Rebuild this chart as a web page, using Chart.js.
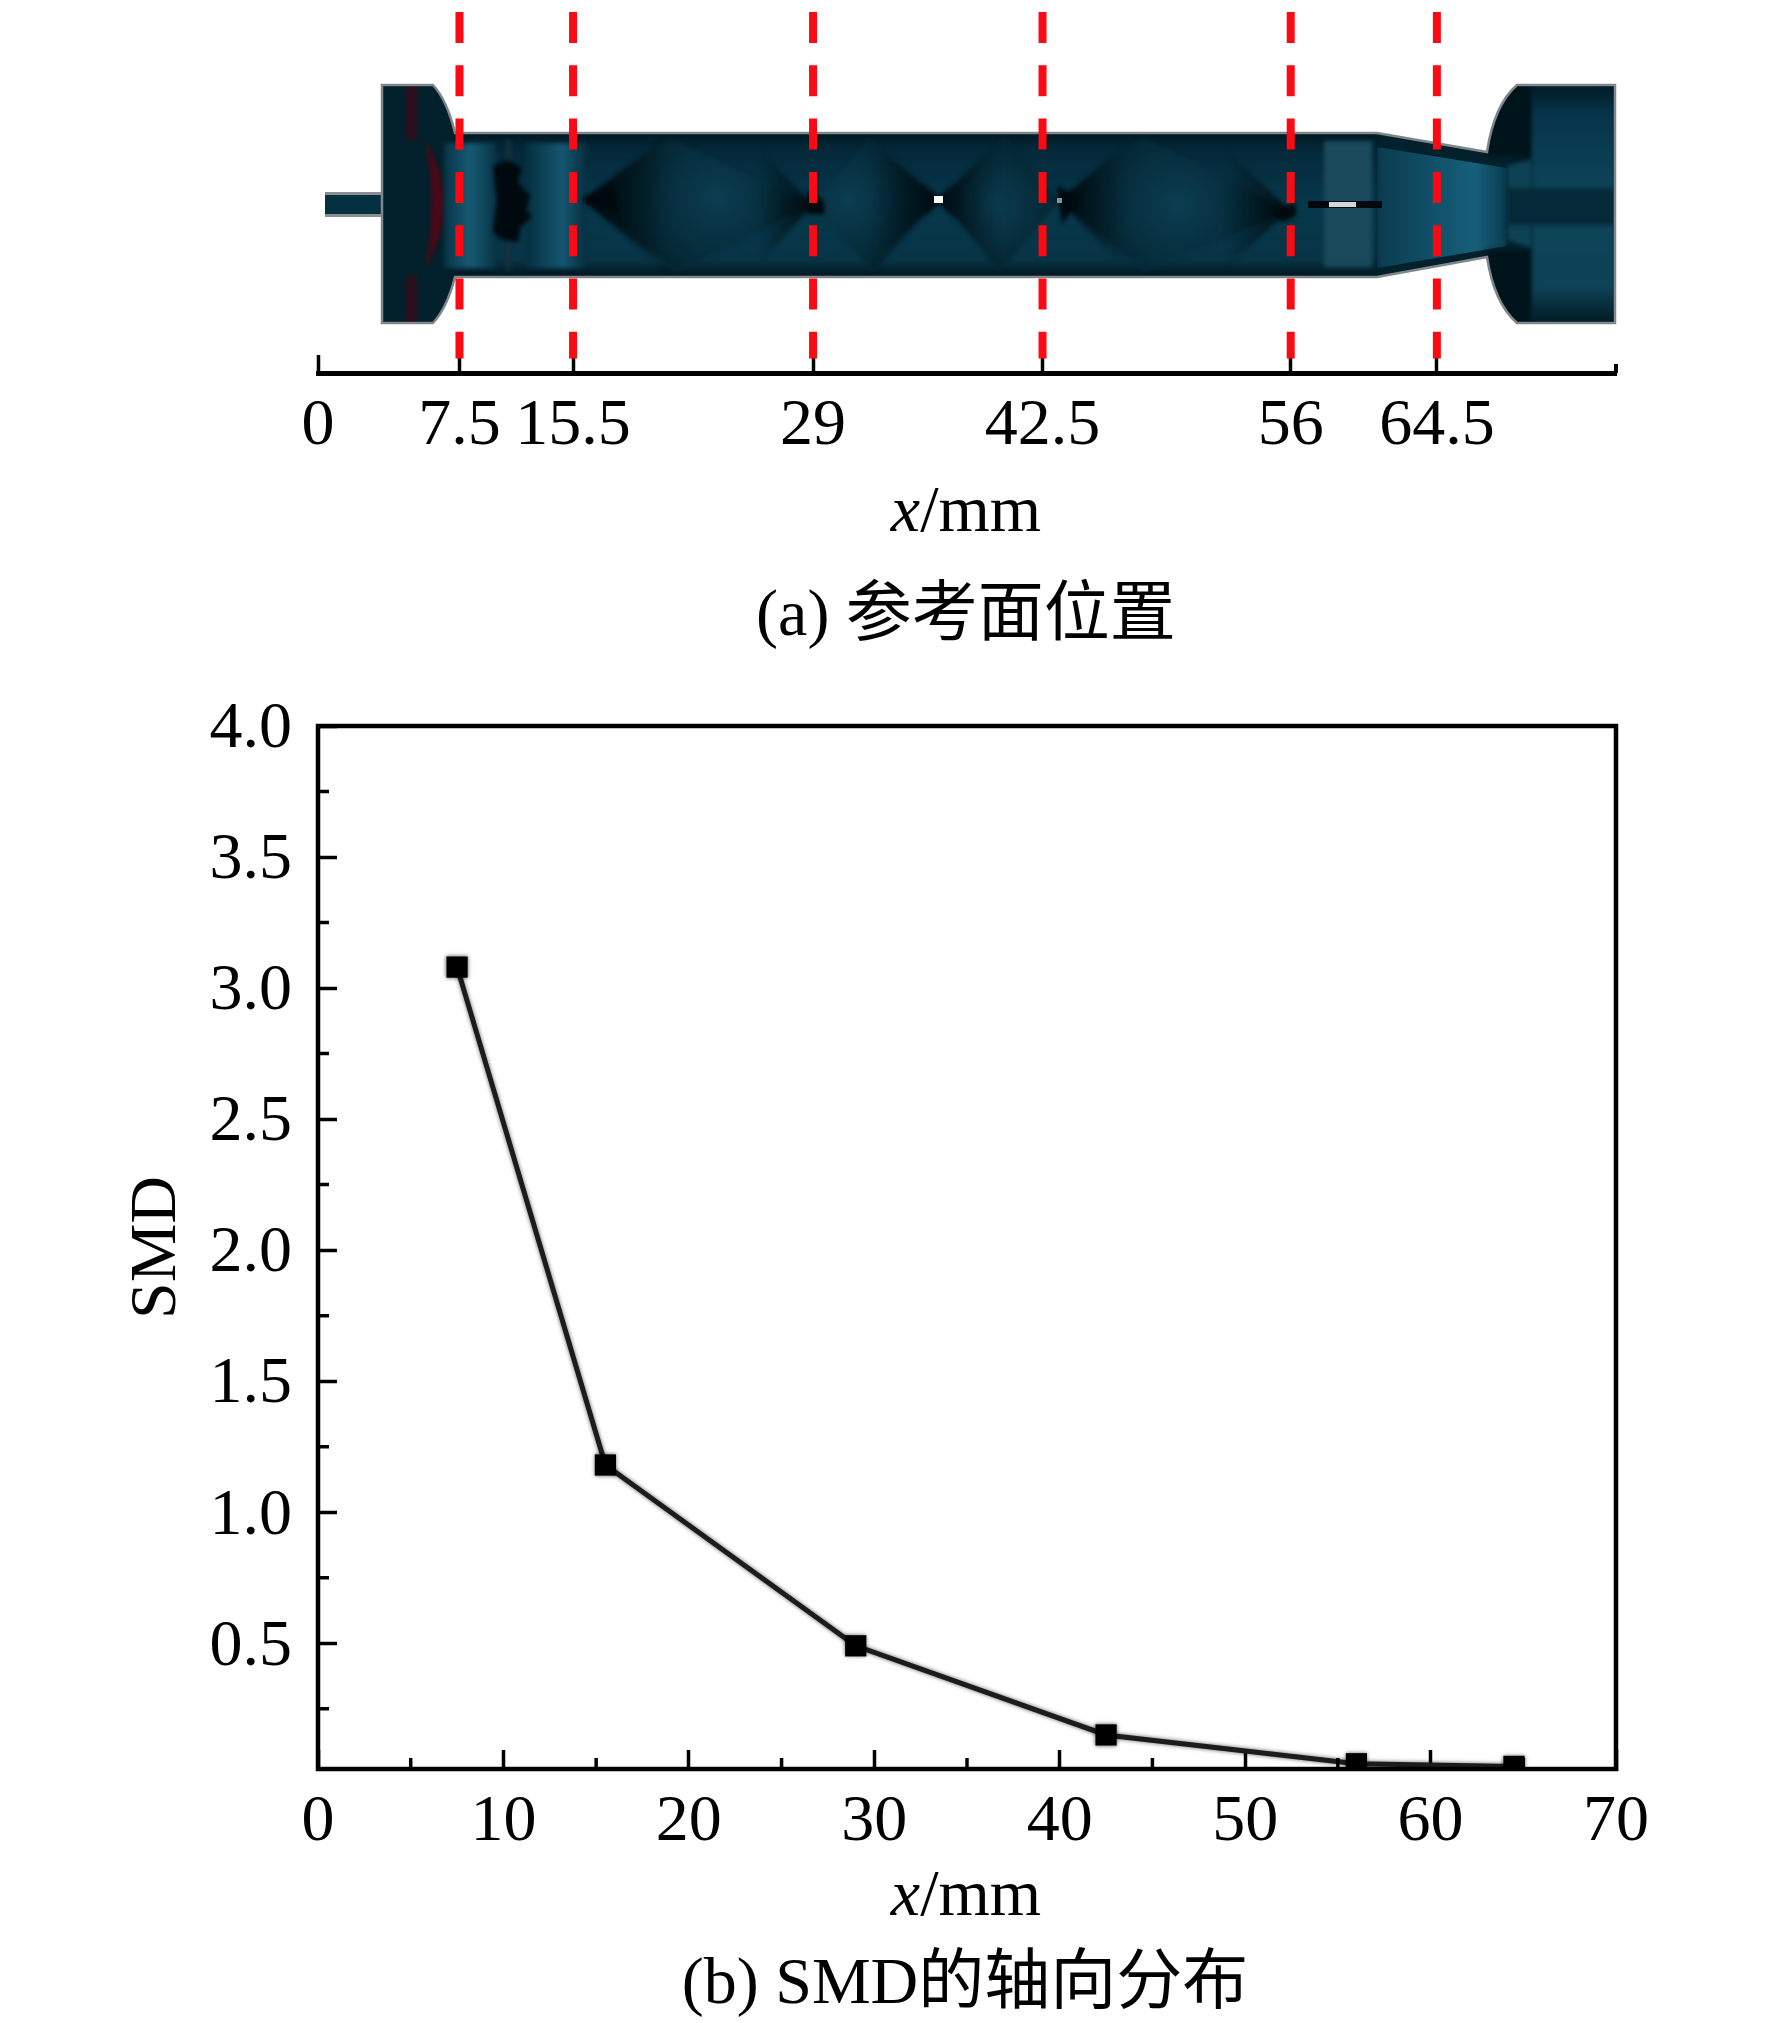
<!DOCTYPE html>
<html>
<head>
<meta charset="utf-8">
<title>SMD</title>
<script src="https://cdn.jsdelivr.net/npm/chart.js@4"></script>
<style>
  html, body { margin: 0; padding: 0; background: #fff; }
  body { position: relative; width: 1772px; height: 2023px; overflow: hidden; }
  canvas { position: absolute; left: 0; }
  #plane-chart { top: 0; }
  #smd-chart { top: 640px; }
  .label {
    position: absolute;
    transform: translateX(-50%);
    white-space: nowrap;
    font: 66px/66px "Liberation Serif", "Noto Sans CJK SC", serif;
    color: #000;
  }
</style>
</head>
<body>
<canvas id="plane-chart" width="1772" height="640"></canvas>
<canvas id="smd-chart" width="1772" height="1383"></canvas>
<div class="label" style="left:966px;top:476px"><i>x</i>/mm</div>
<div class="label" style="left:966px;top:580px">(a) 参考面位置</div>
<div class="label" style="left:966px;top:1860px"><i>x</i>/mm</div>
<div class="label" style="left:965px;top:1948px">(b) SMD的轴向分布</div>

<script>
'use strict';

// ─── DATA ────────────────────────────────────────────────────────────────────

// panel (a): reference planes, the drawing is not to scale so they are read
// as a share of the axis length
const planeLabels = ['7.5', '15.5', '29', '42.5', '56', '64.5'];
const planeShare  = [10.9, 19.65, 38.14, 55.82, 74.94, 86.2];

// panel (b)
const smdX = [7.5, 15.5, 29, 42.5, 56, 64.5];
const smdY = [3.08, 1.18, 0.49, 0.15, 0.04, 0.03];

const xMajor = [0, 10, 20, 30, 40, 50, 60, 70];
const xMinor = [5, 15, 25, 35, 45, 55, 65];
const yMajor = [0.5, 1.0, 1.5, 2.0, 2.5, 3.0, 3.5, 4.0];
const yMinor = [0.25, 0.75, 1.25, 1.75, 2.25, 2.75, 3.25, 3.75];

const FONT = { family: '"Liberation Serif", serif', size: 66 };

Chart.defaults.animation = false;
Chart.defaults.responsive = false;
Chart.defaults.devicePixelRatio = 1;
Chart.defaults.plugins.legend.display = false;
Chart.defaults.plugins.tooltip.enabled = false;

// ─── PANEL (a) NOZZLE ILLUSTRATION (picture, not data) ───────────────────────

function poly(ctx, pts, fill) {
  ctx.beginPath();
  pts.forEach((p, i) => (i ? ctx.lineTo(p[0], p[1]) : ctx.moveTo(p[0], p[1])));
  ctx.closePath();
  ctx.fillStyle = fill;
  ctx.fill();
}

function bodyPath(ctx) {
  ctx.beginPath();
  ctx.moveTo(382, 85);
  ctx.lineTo(433, 85);
  ctx.quadraticCurveTo(447, 100, 455, 133);
  ctx.lineTo(1377, 133);
  ctx.lineTo(1487, 152);
  ctx.quadraticCurveTo(1494, 105, 1517, 85);
  ctx.lineTo(1615, 85);
  ctx.lineTo(1615, 323);
  ctx.lineTo(1517, 323);
  ctx.quadraticCurveTo(1494, 303, 1487, 257);
  ctx.lineTo(1377, 277);
  ctx.lineTo(455, 277);
  ctx.quadraticCurveTo(447, 308, 433, 323);
  ctx.lineTo(382, 323);
  ctx.closePath();
}

function hBand(ctx, x0, x1, y0, y1, edge, mid, midAt) {
  const g = ctx.createLinearGradient(x0, 0, x1, 0);
  g.addColorStop(0, edge);
  g.addColorStop(midAt === undefined ? 0.5 : midAt, mid);
  g.addColorStop(1, edge);
  ctx.fillStyle = g;
  ctx.fillRect(x0, y0, x1 - x0, y1 - y0);
}

function diamond(ctx, pts, cx, cy, r) {
  const g = ctx.createRadialGradient(cx, cy, 4, cx, cy, r);
  g.addColorStop(0, '#0b3c50');
  g.addColorStop(0.6, '#052a38');
  g.addColorStop(1, '#021d27');
  poly(ctx, pts, g);
}

// dark wedge fading away from a cell end
function wedge(ctx, pts, x0, x1) {
  const g = ctx.createLinearGradient(x0, 0, x1, 0);
  g.addColorStop(0, 'rgba(0,9,13,0.9)');
  g.addColorStop(1, 'rgba(0,9,13,0)');
  poly(ctx, pts, g);
}

function drawNozzle(ctx) {
  ctx.save();

  // inlet stub
  ctx.fillStyle = '#8a8f92';
  ctx.fillRect(325, 192, 60, 25);
  ctx.fillStyle = '#05303f';
  ctx.fillRect(325, 195, 60, 19);

  ctx.save();
  bodyPath(ctx);
  ctx.fillStyle = '#02212c';
  ctx.fill();
  ctx.clip();
  ctx.filter = 'blur(2px)';

  // tube base, dark to the walls
  const tube = ctx.createLinearGradient(0, 133, 0, 277);
  tube.addColorStop(0, '#011722');
  tube.addColorStop(0.12, '#04293a');
  tube.addColorStop(0.5, '#07384b');
  tube.addColorStop(0.88, '#083446');
  tube.addColorStop(1, '#01141c');
  ctx.fillStyle = tube;
  ctx.fillRect(452, 133, 925, 144);

  // left flange with the red crescent
  poly(ctx, [[406, 85], [417, 85], [417, 140], [406, 140]], '#2b0f1a');
  poly(ctx, [[406, 275], [417, 275], [417, 323], [406, 323]], '#2b0f1a');
  ctx.beginPath();
  ctx.moveTo(425, 140);
  ctx.quadraticCurveTo(464, 204, 425, 268);
  ctx.quadraticCurveTo(438, 204, 425, 140);
  ctx.fillStyle = '#4a0817';
  ctx.fill();

  // bright sections
  hBand(ctx, 444, 496, 143, 268, '#083446', '#175a74', 0.5);
  hBand(ctx, 526, 586, 143, 268, '#062f40', '#15566f', 0.6);
  ctx.fillStyle = '#16323c';
  ctx.fillRect(506, 140, 5, 130);
  poly(ctx, [[493, 166], [508, 160], [522, 168], [518, 182], [530, 196], [526, 210],
             [532, 216], [520, 228], [518, 242], [503, 240], [493, 232], [497, 200]], '#00090d');

  // shock cells
  diamond(ctx, [[583, 200], [668, 138], [813, 205], [677, 272]], 718, 198, 110);
  diamond(ctx, [[813, 205], [870, 138], [939, 199], [874, 272]], 848, 200, 95);
  diamond(ctx, [[939, 199], [1005, 138], [1059, 201], [1000, 272]], 992, 205, 85);
  diamond(ctx, [[1059, 200], [1143, 138], [1290, 210], [1145, 272]], 1178, 205, 115);

  // dark wedges at the cell ends, wide and soft
  wedge(ctx, [[583, 200], [668, 136], [668, 272]], 590, 668);
  wedge(ctx, [[939, 199], [870, 140], [870, 268]], 939, 870);
  wedge(ctx, [[939, 199], [1000, 140], [1000, 268]], 939, 1000);
  wedge(ctx, [[813, 205], [760, 150], [760, 262]], 813, 760);
  wedge(ctx, [[1059, 200], [1125, 145], [1125, 268]], 1059, 1125);
  wedge(ctx, [[1290, 210], [1225, 150], [1225, 268]], 1290, 1225);

  // dark cores at the cell ends
  poly(ctx, [[583, 200], [614, 186], [618, 214]], '#00090d');
  poly(ctx, [[807, 190], [823, 200], [825, 214], [807, 214]], '#00090d');
  poly(ctx, [[925, 183], [939, 199], [953, 183], [943, 199], [956, 218], [939, 203], [922, 218], [935, 199]], '#00090d');
  poly(ctx, [[1057, 185], [1080, 200], [1062, 224]], '#00090d');
  poly(ctx, [[1272, 212], [1296, 203], [1296, 216], [1282, 222]], '#00090d');

  // throat insert and slot
  ctx.fillStyle = '#1a4a5c';
  ctx.fillRect(1324, 141, 48, 126);

  // converging part
  ctx.save();
  ctx.beginPath();
  ctx.moveTo(1377, 147);
  ctx.lineTo(1507, 168);
  ctx.lineTo(1507, 246);
  ctx.lineTo(1377, 268);
  ctx.closePath();
  ctx.clip();
  hBand(ctx, 1377, 1507, 140, 270, '#0a3c50', '#175f7b', 0.75);
  ctx.restore();

  // right flange
  ctx.fillStyle = '#00141c';
  ctx.fillRect(1487, 85, 45, 72);
  ctx.fillRect(1487, 250, 45, 73);
  const right = ctx.createLinearGradient(0, 85, 0, 323);
  right.addColorStop(0, '#011a24');
  right.addColorStop(0.12, '#07344a');
  right.addColorStop(0.45, '#0e455a');
  right.addColorStop(0.85, '#0d4356');
  right.addColorStop(1, '#011a24');
  ctx.fillStyle = right;
  ctx.fillRect(1532, 85, 83, 238);
  poly(ctx, [[1507, 166], [1532, 160], [1532, 248], [1507, 240]], '#0e4255');
  ctx.fillStyle = '#052a38';
  ctx.fillRect(1507, 188, 108, 37);
  ctx.restore();

  // sharp small spots over the soft shading
  ctx.fillStyle = '#00090d';
  ctx.fillRect(1308, 201, 74, 7);
  ctx.fillStyle = '#d6d6d6';
  ctx.fillRect(1329, 202, 27, 5);
  ctx.fillStyle = '#ffffff';
  ctx.fillRect(934, 196, 9, 7);
  ctx.fillStyle = '#8a9297';
  ctx.fillRect(1057, 198, 5, 5);

  // grey wall edge
  bodyPath(ctx);
  ctx.strokeStyle = '#80868a';
  ctx.lineWidth = 2.5;
  ctx.stroke();
  ctx.restore();
}

const nozzlePlugin = {
  id: 'nozzle',
  beforeDatasetsDraw(chart) { drawNozzle(chart.ctx); },
  afterDatasetsDraw(chart) {
    // short closing tick at the right end of the axis
    const { ctx, chartArea, scales } = chart;
    const xr = scales.x.getPixelForValue(100);
    ctx.save();
    ctx.fillStyle = '#000';
    ctx.fillRect(xr - 2, chartArea.bottom - 9, 4, 9);
    ctx.restore();
  },
};

// ─── PANEL (a) CHART ─────────────────────────────────────────────────────────

new Chart(document.getElementById('plane-chart'), {
  type: 'line',
  plugins: [nozzlePlugin],
  data: {
    datasets: planeShare.map(v => ({
      data: [{ x: v, y: 1 }, { x: v, y: 0.04 }],
      borderColor: '#fb0a14',
      borderWidth: 8,
      borderDash: [31, 22.3],
      pointRadius: 0,
      clip: false,
    })),
  },
  options: {
    layout: { padding: { left: 318, right: 156, top: 12, bottom: 0 } },
    scales: {
      y: { type: 'linear', display: false, min: 0, max: 1 },
      x: {
        type: 'linear',
        min: 0,
        max: 100,
        afterFit: s => { s.height = 267; },
        afterBuildTicks: s => { s.ticks = [0, ...planeShare].map(value => ({ value })); },
        border: { color: '#000', width: 5 },
        grid: { drawOnChartArea: false, color: '#000', tickColor: '#000', tickWidth: 3.5, tickLength: -18 },
        ticks: {
          font: FONT,
          color: '#000',
          padding: 32,
          autoSkip: false,
          maxRotation: 0,
          callback: value => (value === 0 ? '0' : planeLabels[planeShare.indexOf(value)]),
        },
      },
    },
  },
});

// ─── PANEL (b) CHART ─────────────────────────────────────────────────────────

const framePlugin = {
  id: 'frame',
  beforeDatasetsDraw(chart) {
    chart.ctx.save();
    chart.ctx.shadowColor = 'rgba(0,0,0,0.6)';
    chart.ctx.shadowBlur = 4;
  },
  afterDatasetsDraw(chart) {
    const { ctx, chartArea: a, scales } = chart;
    ctx.restore();
    ctx.save();
    ctx.strokeStyle = '#000';
    ctx.lineWidth = 4.5;
    ctx.strokeRect(a.left, a.top, a.right - a.left, a.bottom - a.top);
    // minor ticks, shorter than the library's major ones
    ctx.lineWidth = 3.5;
    ctx.beginPath();
    xMinor.forEach(v => {
      const px = scales.x.getPixelForValue(v);
      ctx.moveTo(px, a.bottom);
      ctx.lineTo(px, a.bottom - 11);
    });
    yMinor.forEach(v => {
      const py = scales.y.getPixelForValue(v);
      ctx.moveTo(a.left, py);
      ctx.lineTo(a.left + 11, py);
    });
    ctx.stroke();
    ctx.restore();
  },
};

new Chart(document.getElementById('smd-chart'), {
  type: 'line',
  plugins: [framePlugin],
  data: {
    datasets: [{
      data: smdX.map((x, i) => ({ x, y: smdY[i] })),
      borderColor: '#1c1c1c',
      borderWidth: 5,
      tension: 0,
      pointStyle: 'rect',
      pointRadius: 15,
      pointBackgroundColor: '#000',
      pointBorderColor: '#000',
      pointBorderWidth: 0,
      clip: 0,
    }],
  },
  options: {
    layout: { padding: { left: 0, right: 156, top: 86, bottom: 0 } },
    scales: {
      x: {
        type: 'linear',
        min: 0,
        max: 70,
        afterFit: s => { s.height = 254; },
        afterBuildTicks: s => { s.ticks = xMajor.map(value => ({ value })); },
        border: { color: '#000', width: 4 },
        grid: { drawOnChartArea: false, color: '#000', tickColor: '#000', tickWidth: 3.5, tickLength: -19 },
        ticks: { font: FONT, color: '#000', padding: 33, autoSkip: false, maxRotation: 0, callback: v => String(v) },
      },
      y: {
        type: 'linear',
        min: 0.02,
        max: 4,
        afterFit: s => { s.width = 318; },
        afterBuildTicks: s => { s.ticks = yMajor.map(value => ({ value })); },
        border: { color: '#000', width: 4 },
        grid: { drawOnChartArea: false, color: '#000', tickColor: '#000', tickWidth: 3.5, tickLength: -19 },
        ticks: { font: FONT, color: '#000', padding: 45, labelOffset: 4, autoSkip: false, callback: v => v.toFixed(1) },
        title: { display: true, text: 'SMD', font: FONT, color: '#000', padding: { top: 118, bottom: 0 } },
      },
    },
  },
});
</script>
</body>
</html>
